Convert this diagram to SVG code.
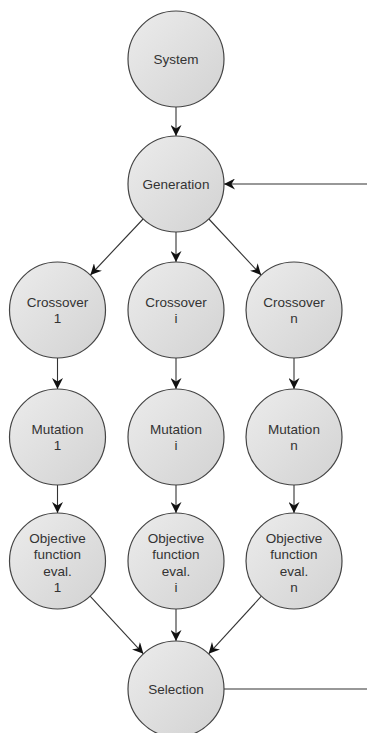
<svg xmlns="http://www.w3.org/2000/svg" width="367" height="733" viewBox="0 0 367 733">
<style>
.node circle{fill:url(#g);stroke:#444;stroke-width:1.2}
.node text{font-family:"Liberation Sans",Arial,sans-serif;font-size:13.5px;fill:#333;text-anchor:middle}
.edge{stroke:#333;stroke-width:1.1;fill:none}
.arr{marker-end:url(#ah)}
</style>
<defs>
<linearGradient id="g" x1="0" y1="0" x2="1" y2="1">
<stop offset="0" stop-color="#ececec"/>
<stop offset="1" stop-color="#d2d2d2"/>
</linearGradient>
<marker id="ah" markerUnits="userSpaceOnUse" markerWidth="12" markerHeight="11" refX="11" refY="5.5" orient="auto" viewBox="0 0 12 11">
<path d="M0,0 L11,5.5 L0,11 L3.5,5.5 z" fill="#111"/>
</marker>
</defs>
<g id="connectors">
<line class="edge arr" x1="176" y1="107" x2="176" y2="136"/>
<line class="edge arr" x1="367" y1="184" x2="224" y2="184"/>
<line class="edge arr" x1="143.1" y1="219" x2="90.4" y2="275"/>
<line class="edge arr" x1="176" y1="232" x2="176" y2="262"/>
<line class="edge arr" x1="208.9" y1="219" x2="261.1" y2="275"/>
<line class="edge arr" x1="57.5" y1="358" x2="57.5" y2="389"/>
<line class="edge arr" x1="176" y1="358" x2="176" y2="389"/>
<line class="edge arr" x1="294" y1="358" x2="294" y2="389"/>
<line class="edge arr" x1="57.5" y1="485" x2="57.5" y2="513"/>
<line class="edge arr" x1="176" y1="485" x2="176" y2="513"/>
<line class="edge arr" x1="294" y1="485" x2="294" y2="513"/>
<line class="edge arr" x1="90.1" y1="596.2" x2="143.4" y2="653.8"/>
<line class="edge arr" x1="176" y1="609" x2="176" y2="641"/>
<line class="edge arr" x1="261.4" y1="596.2" x2="208.6" y2="653.8"/>
<line class="edge" x1="224" y1="689" x2="367" y2="689"/>
</g>
<g id="system" class="node"><circle cx="176" cy="59" r="48"/><text x="176" y="63.5">System</text></g>
<g id="generation" class="node"><circle cx="176" cy="184" r="48"/><text x="176" y="188.5">Generation</text></g>
<g id="crossover1" class="node"><circle cx="57.5" cy="310" r="48"/><text x="57.5" y="307">Crossover</text><text x="57.5" y="323">1</text></g>
<g id="crossoveri" class="node"><circle cx="176" cy="310" r="48"/><text x="176" y="307">Crossover</text><text x="176" y="323">i</text></g>
<g id="crossovern" class="node"><circle cx="294" cy="310" r="48"/><text x="294" y="307">Crossover</text><text x="294" y="323">n</text></g>
<g id="mutation1" class="node"><circle cx="57.5" cy="437" r="48"/><text x="57.5" y="434">Mutation</text><text x="57.5" y="450">1</text></g>
<g id="mutationi" class="node"><circle cx="176" cy="437" r="48"/><text x="176" y="434">Mutation</text><text x="176" y="450">i</text></g>
<g id="mutationn" class="node"><circle cx="294" cy="437" r="48"/><text x="294" y="434">Mutation</text><text x="294" y="450">n</text></g>
<g id="objective1" class="node"><circle cx="57.5" cy="561" r="48"/><text x="57.5" y="542.5">Objective</text><text x="57.5" y="559">function</text><text x="57.5" y="575.5">eval.</text><text x="57.5" y="592">1</text></g>
<g id="objectivei" class="node"><circle cx="176" cy="561" r="48"/><text x="176" y="542.5">Objective</text><text x="176" y="559">function</text><text x="176" y="575.5">eval.</text><text x="176" y="592">i</text></g>
<g id="objectiven" class="node"><circle cx="294" cy="561" r="48"/><text x="294" y="542.5">Objective</text><text x="294" y="559">function</text><text x="294" y="575.5">eval.</text><text x="294" y="592">n</text></g>
<g id="selection" class="node"><circle cx="176" cy="689" r="48"/><text x="176" y="693.5">Selection</text></g>
</svg>
